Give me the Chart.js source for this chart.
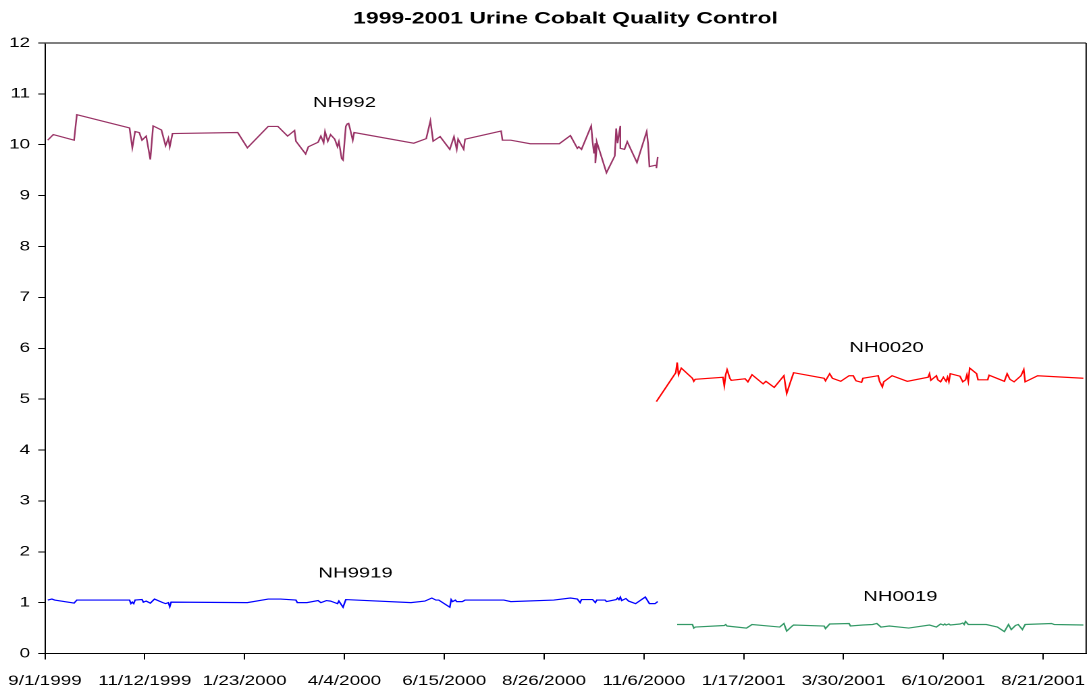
<!DOCTYPE html>
<html lang="en">
  <head>
    <meta charset="utf-8" />
    <title>Urine Cobalt Quality Control</title>
    <style>
      html, body { margin: 0; padding: 0; background: #fff; overflow: hidden; }
      /* the reference is stretched sideways, so the chart is drawn narrow and scaled */
      #wrap { width: 808px; height: 694px; transform: scaleX(1.350248); transform-origin: 0 0; }
    </style>
  </head>
  <body>
    <div id="wrap">
      <canvas id="canvas"></canvas>
    </div>

    <script src="https://cdn.jsdelivr.net/npm/chart.js"></script>

    <script>
      // x values are days since 9/1/1999
      const tickDays = [0, 72, 144, 216, 288, 360, 432, 504, 576, 648, 720];
      const tickLabels = ["9/1/1999", "11/12/1999", "1/23/2000", "4/4/2000", "6/15/2000", "8/26/2000",
        "11/6/2000", "1/17/2001", "3/30/2001", "6/10/2001", "8/21/2001"];

      const nh992Days = [2, 6, 21, 23, 61, 63, 65, 68, 70, 73, 76, 78, 84, 87, 89, 90, 92, 139, 146, 161,
        168, 175, 180, 181, 188, 190, 197, 199, 201, 202, 204, 206, 209, 211, 212, 214, 215, 217, 218, 219,
        220, 222, 223, 266, 275, 278, 280, 285, 292, 295, 297, 298, 302, 303, 329, 330, 336, 350, 371, 379,
        384, 385, 387, 394, 395, 396, 397, 397, 398, 398, 405, 411, 412, 413, 415, 415, 418, 420, 427, 434,
        435, 436, 441, 441, 442];
      const nh992Values = [10.09, 10.20, 10.09, 10.59, 10.33, 9.94, 10.26, 10.24, 10.09, 10.17, 9.71, 10.37,
        10.29, 9.98, 10.13, 9.96, 10.22, 10.24, 9.94, 10.36, 10.36, 10.17, 10.28, 10.07, 9.82, 9.96, 10.05,
        10.17, 10.04, 10.26, 10.07, 10.20, 10.11, 9.96, 10.06, 9.73, 9.70, 10.36, 10.41, 10.42, 10.32, 10.09,
        10.24, 10.03, 10.12, 10.47, 10.07, 10.16, 9.91, 10.16, 9.91, 10.11, 9.91, 10.11, 10.27, 10.09, 10.09,
        10.02, 10.02, 10.18, 9.93, 9.96, 9.91, 10.37, 10.06, 9.83, 10.03, 9.64, 9.96, 10.06, 9.45, 9.78,
        10.32, 10.03, 10.37, 9.93, 9.91, 10.06, 9.65, 10.26, 10.03, 9.57, 9.60, 9.54, 9.76];

      const nh9919Days = [2, 5, 7, 21, 23, 61, 62, 63, 64, 65, 70, 71, 73, 76, 79, 85, 87, 89, 90, 91, 146,
        161, 170, 181, 182, 189, 197, 199, 203, 206, 209, 211, 212, 215, 217, 264, 274, 279, 282, 284, 292,
        293, 294, 296, 297, 301, 303, 331, 336, 367, 379, 384, 386, 387, 395, 397, 398, 404, 405, 412, 413,
        414, 415, 416, 419, 421, 426, 433, 436, 440, 442];
      const nh9919Values = [1.05, 1.07, 1.05, 0.99, 1.05, 1.05, 0.98, 1.01, 0.98, 1.05, 1.06, 1.01, 1.03,
        0.99, 1.07, 1.00, 0.98, 1.00, 0.92, 1.01, 1.00, 1.07, 1.07, 1.05, 1.00, 1.00, 1.04, 1.00, 1.04, 1.03,
        1.00, 0.98, 1.03, 0.91, 1.06, 1.00, 1.03, 1.09, 1.05, 1.05, 0.91, 1.06, 1.02, 1.05, 1.02, 1.02, 1.05,
        1.05, 1.02, 1.05, 1.09, 1.07, 1.00, 1.06, 1.06, 1.00, 1.05, 1.05, 1.02, 1.06, 1.09, 1.06, 1.11, 1.04,
        1.08, 1.03, 0.98, 1.11, 0.98, 0.98, 1.02];

      const nh0020Days = [441, 455, 456, 457, 459, 467, 468, 469, 489, 490, 491, 492, 494, 495, 505, 507, 510,
        518, 520, 526, 533, 535, 537, 540, 562, 563, 566, 568, 574, 580, 583, 585, 589, 590, 601, 602, 604,
        605, 611, 622, 637, 638, 639, 643, 644, 646, 648, 650, 651, 652, 653, 660, 662, 664, 665, 666, 667,
        672, 673, 680, 681, 692, 694, 696, 699, 704, 706, 707, 716, 749];
      const nh0020Values = [4.95, 5.52, 5.72, 5.48, 5.61, 5.41, 5.35, 5.39, 5.43, 5.26, 5.48, 5.58, 5.41, 5.37,
        5.40, 5.34, 5.48, 5.30, 5.35, 5.23, 5.46, 5.11, 5.28, 5.52, 5.41, 5.36, 5.50, 5.41, 5.35, 5.46, 5.46,
        5.36, 5.33, 5.41, 5.46, 5.35, 5.24, 5.34, 5.46, 5.35, 5.43, 5.50, 5.37, 5.46, 5.38, 5.34, 5.43, 5.35,
        5.43, 5.34, 5.50, 5.45, 5.34, 5.38, 5.48, 5.35, 5.61, 5.50, 5.38, 5.38, 5.47, 5.35, 5.50, 5.39, 5.34,
        5.46, 5.58, 5.34, 5.46, 5.41];

      const nh0019Days = [456, 467, 468, 469, 490, 491, 492, 506, 510, 530, 533, 535, 539, 540, 562, 563, 566,
        580, 581, 590, 597, 600, 603, 609, 623, 638, 643, 646, 648, 649, 650, 652, 653, 660, 662, 663, 664,
        666, 679, 687, 692, 695, 697, 700, 702, 705, 707, 726, 728, 749];
      const nh0019Values = [0.57, 0.57, 0.50, 0.52, 0.55, 0.57, 0.54, 0.50, 0.57, 0.52, 0.59, 0.44, 0.54, 0.56,
        0.54, 0.49, 0.58, 0.59, 0.54, 0.56, 0.57, 0.59, 0.52, 0.54, 0.50, 0.56, 0.52, 0.58, 0.56, 0.58, 0.56,
        0.58, 0.56, 0.58, 0.60, 0.57, 0.63, 0.57, 0.57, 0.52, 0.43, 0.57, 0.47, 0.55, 0.57, 0.47, 0.57, 0.59,
        0.57, 0.56];

      // text labels placed next to each series (day, value)
      const seriesNames = ["NH992", "NH9919", "NH0020", "NH0019"];
      const labelDays = [216, 224, 607, 617];
      const labelValues = [10.82, 1.58, 6.01, 1.11];

      const FONT = "'Liberation Sans', Arial, sans-serif";

      function points(days, values) {
        return days.map((d, i) => ({ x: d, y: values[i] }));
      }

      function series(label, days, values, color) {
        return {
          label: label,
          data: points(days, values),
          borderColor: color,
          borderWidth: 1.2,
          pointRadius: 0,
          tension: 0,
          fill: false,
        };
      }

      const frame = {
        id: "frame",
        afterDraw(chart) {
          const { ctx, chartArea: a } = chart;
          ctx.save();
          ctx.strokeStyle = "#555";
          ctx.lineWidth = 1.5;
          ctx.beginPath();
          ctx.moveTo(a.left, a.top);
          ctx.lineTo(a.right, a.top);
          ctx.stroke();
          ctx.strokeStyle = "#000";
          ctx.lineWidth = 1;
          ctx.beginPath();
          ctx.moveTo(a.right, a.top);
          ctx.lineTo(a.right, a.bottom);
          ctx.stroke();
          ctx.restore();
        },
      };

      const seriesText = {
        id: "seriesText",
        afterDatasetsDraw(chart) {
          const { ctx } = chart;
          const xs = chart.scales.x;
          const ys = chart.scales.y;
          ctx.save();
          ctx.font = "15px " + FONT;
          ctx.fillStyle = "#000";
          ctx.textAlign = "center";
          ctx.textBaseline = "middle";
          seriesNames.forEach((name, i) => {
            ctx.fillText(name, xs.getPixelForValue(labelDays[i]), ys.getPixelForValue(labelValues[i]));
          });
          ctx.restore();
        },
      };

      const ctx = document.getElementById("canvas");

      new Chart(ctx, {
        type: "line",
        data: {
          datasets: [
            series("NH992", nh992Days, nh992Values, "#993366"),
            series("NH9919", nh9919Days, nh9919Values, "#0000FF"),
            series("NH0020", nh0020Days, nh0020Values, "#FF0000"),
            series("NH0019", nh0019Days, nh0019Values, "#339966"),
          ],
        },
        plugins: [frame, seriesText],
        options: {
          responsive: true,
          maintainAspectRatio: false,
          devicePixelRatio: 2,
          animation: false,
          layout: { padding: { left: 0, right: 3.6, top: 0, bottom: 0 } },
          plugins: {
            legend: { display: false },
            tooltip: { enabled: false },
            title: {
              display: true,
              fullSize: false,
              text: "1999-2001 Urine Cobalt Quality Control",
              color: "#000",
              font: { family: FONT, size: 17, weight: "bold" },
              padding: { top: 8.5, bottom: 14.1 },
            },
          },
          scales: {
            x: {
              type: "linear",
              min: 0,
              max: 751,
              afterBuildTicks: (s) => {
                s.ticks = tickDays.map((v) => ({ value: v }));
              },
              afterFit: (s) => {
                // fixed axis band; edge labels may overhang the plot
                s.height = 40.5;
                s.paddingLeft = 0;
                s.paddingRight = 0;
              },
              ticks: {
                autoSkip: false,
                maxRotation: 0,
                color: "#000",
                padding: 13,
                font: { family: FONT, size: 14 },
                callback: (v, i) => tickLabels[i],
              },
              grid: { drawOnChartArea: false, tickLength: 6, color: "#000" },
              border: { color: "#000", width: 1 },
            },
            y: {
              min: 0,
              max: 12,
              afterFit: (s) => {
                s.width = 33.3;
              },
              ticks: {
                stepSize: 1,
                color: "#000",
                padding: 6,
                font: { family: FONT, size: 14 },
              },
              grid: { drawOnChartArea: false, tickLength: 5, color: "#000" },
              border: { color: "#000", width: 1 },
            },
          },
        },
      });
    </script>
  </body>
</html>
